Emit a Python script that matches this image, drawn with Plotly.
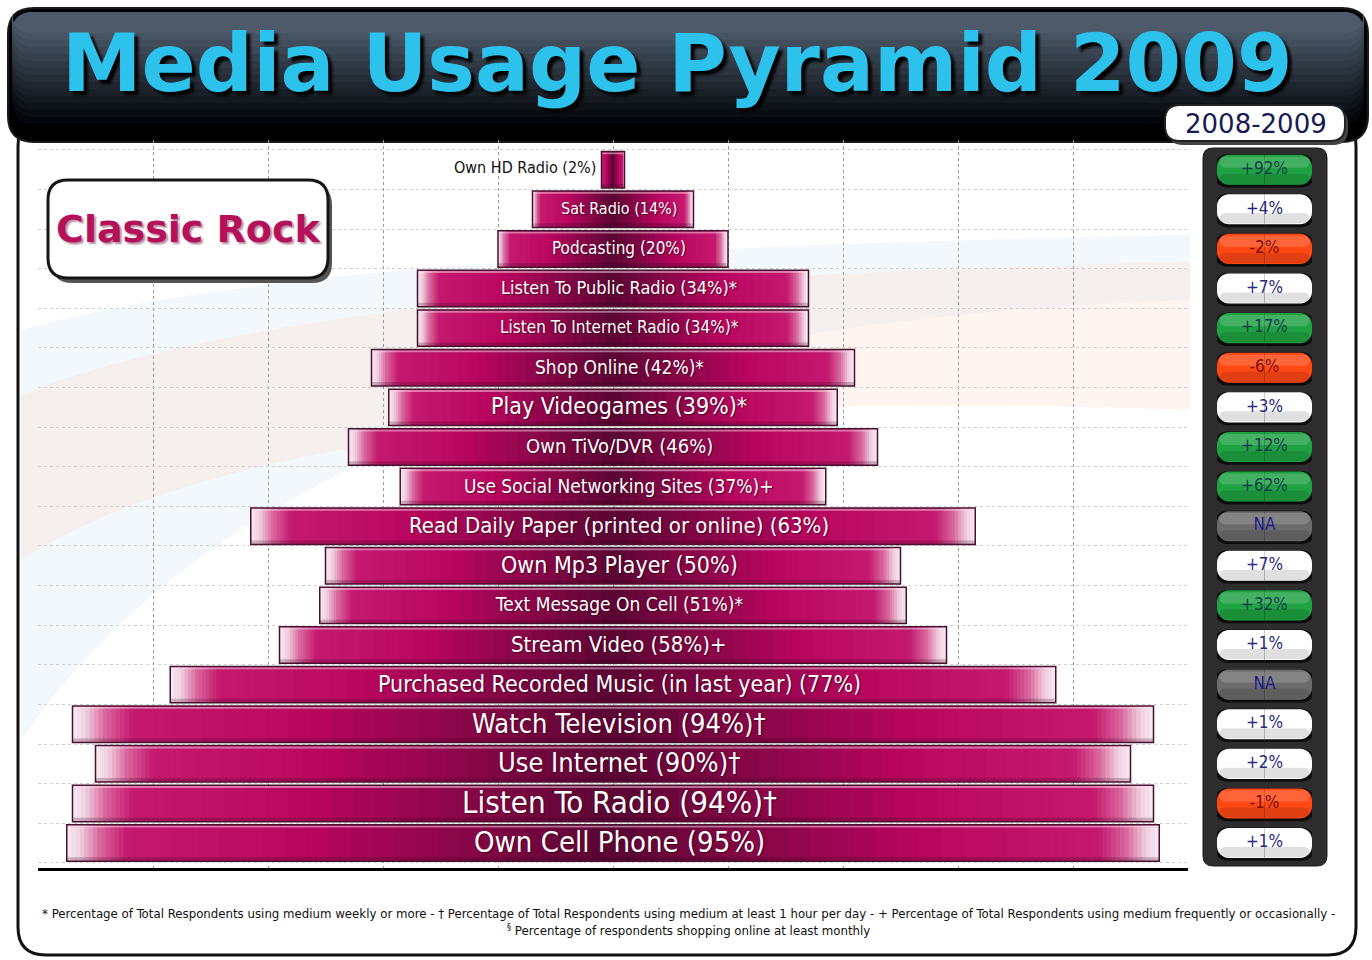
import plotly.graph_objects as go

# ---------------- data ----------------
categories = [
    "Own Cell Phone (95%)",
    "Listen To Radio (94%)†",
    "Use Internet (90%)†",
    "Watch Television (94%)†",
    "Purchased Recorded Music (in last year) (77%)",
    "Stream Video (58%)+",
    "Text Message On Cell (51%)*",
    "Own Mp3 Player (50%)",
    "Read Daily Paper (printed or online) (63%)",
    "Use Social Networking Sites (37%)+",
    "Own TiVo/DVR (46%)",
    "Play Videogames (39%)*",
    "Shop Online (42%)*",
    "Listen To Internet Radio (34%)*",
    "Listen To Public Radio (34%)*",
    "Podcasting (20%)",
    "Sat Radio (14%)",
    "Own HD Radio (2%)",
]
usage = [95, 94, 90, 94, 77, 58, 51, 50, 63, 37, 46, 39, 42, 34, 34, 20, 14, 2]
change_2008_2009 = [1, -1, 2, 1, None, 1, 32, 7, None, 62, 12, 3, -6, 17, 7, -2, 4, 92]

title_text = "Media Usage Pyramid 2009"
period_text = "2008-2009"
station_text = "Classic Rock"
footnote_text = ("* Percentage of Total Respondents using medium weekly or more - "
                 "† Percentage of Total Respondents using medium at least 1 hour per day - "
                 "+ Percentage of Total Respondents using medium frequently or occasionally -"
                 "<br><sup>§</sup> Percentage of respondents shopping online at least monthly")

# ---------------- styles ----------------
W, H = 1372, 960
NARROW = "DejaVu Sans Condensed, Liberation Sans Narrow, sans-serif"
label_sizes = [29, 31, 27, 27, 23, 22, 19, 23, 22, 19, 20, 23, 19, 17, 18, 17, 16, 16]

def hx(c):
    c = c.lstrip('#')
    return tuple(int(c[i:i + 2], 16) for i in (0, 2, 4))

def grad(stops, t):
    for (t0, c0), (t1, c1) in zip(stops[:-1], stops[1:]):
        if t0 <= t <= t1:
            f = 0 if t1 == t0 else (t - t0) / (t1 - t0)
            a, b = hx(c0), hx(c1)
            return 'rgb(%d,%d,%d)' % tuple(round(a[k] + (b[k] - a[k]) * f) for k in range(3))
    return stops[-1][1]

bar_stops = [(0.0, '#f8eaf1'), (0.012, '#f0d0e0'), (0.03, '#d8689c'), (0.055, '#c41a6e'),
             (0.22, '#b8065e'), (0.5, '#5a0632'), (0.78, '#b8065e'), (0.945, '#c41a6e'),
             (0.97, '#d8689c'), (0.988, '#f0d0e0'), (1.0, '#f8eaf1')]

# segment boundaries (finer near the bar ends for the light fade)
seg_t = ([k * 0.004 for k in range(25)] + [0.1 + k * 0.02 for k in range(1, 40)] +
         [0.9 + k * 0.004 for k in range(26)])

def P(px, py):
    return px / W, 1 - py / H

def pt(px, py):
    x, y = P(px, py)
    return f"{x:.6f},{y:.6f}"

def rrect(x0, y0, x1, y1, r):
    return (f"M{pt(x0 + r, y0)} L{pt(x1 - r, y0)} Q{pt(x1, y0)} {pt(x1, y0 + r)} "
            f"L{pt(x1, y1 - r)} Q{pt(x1, y1)} {pt(x1 - r, y1)} L{pt(x0 + r, y1)} "
            f"Q{pt(x0, y1)} {pt(x0, y1 - r)} L{pt(x0, y0 + r)} Q{pt(x0, y0)} {pt(x0 + r, y0)} Z")

fig = go.Figure()

# ---------------- pyramid bars (gradient built from segments) ----------------
for a, b in zip(seg_t[:-1], seg_t[1:]):
    t = (a + b) / 2
    ext = 1.0 if b >= 1.0 else 1.5
    xs = [v * (b - a) * ext for v in usage]
    bs = [-v / 2 + v * a for v in usage]
    fig.add_trace(go.Bar(orientation='h', y=categories, x=xs, base=bs, width=0.92,
                         marker=dict(color=grad(bar_stops, t), line=dict(width=0)),
                         hoverinfo='skip', showlegend=False))
# top highlight and bottom shade
fig.add_trace(go.Bar(orientation='h', y=categories, x=usage, base=[-v / 2 for v in usage],
                     width=0.05, offset=0.39, marker=dict(color='rgba(255,215,235,0.5)', line=dict(width=0)),
                     hoverinfo='skip', showlegend=False))
fig.add_trace(go.Bar(orientation='h', y=categories, x=usage, base=[-v / 2 for v in usage],
                     width=0.10, offset=-0.46, marker=dict(color='rgba(50,0,25,0.22)', line=dict(width=0)),
                     hoverinfo='skip', showlegend=False))
# outline
fig.add_trace(go.Bar(orientation='h', y=categories, x=usage, base=[-v / 2 for v in usage],
                     width=0.92, marker=dict(color='rgba(0,0,0,0)', line=dict(color='#4a1030', width=1.5)),
                     hoverinfo='skip', showlegend=False))

# ---------------- badges ----------------
def badge_color(c):
    if c is None:
        return '#6c6c6c'
    if c < 0:
        return '#ff4814'
    if c >= 10:
        return '#1fa243'
    return '#ffffff'

def badge_text_color(c):
    if c is None:
        return '#1c1c8a'
    if c < 0:
        return '#7a1010'
    if c >= 10:
        return '#143f4a'
    return '#2a2a7e'

b_cols = [badge_color(c) for c in change_2008_2009]
b_txt = ['NA' if c is None else f"{c:+d}%" for c in change_2008_2009]
b_tcol = [badge_text_color(c) for c in change_2008_2009]
n = len(categories)
for sgn in (1, -1):
    fig.add_trace(go.Bar(orientation='h', y=categories, x=[1.06 * sgn] * n, width=0.84, offset=-0.45,
                         marker=dict(color='#0c0c0c', cornerradius=13, line=dict(width=0)),
                         xaxis='x3', yaxis='y2', hoverinfo='skip', showlegend=False))
for sgn in (1, -1):
    fig.add_trace(go.Bar(orientation='h', y=categories, x=[1.0 * sgn] * n, width=0.76,
                         marker=dict(color=b_cols, cornerradius=12, line=dict(width=0)),
                         xaxis='x3', yaxis='y2', hoverinfo='skip', showlegend=False))
for sgn in (1, -1):
    fig.add_trace(go.Bar(orientation='h', y=categories, x=[0.95 * sgn] * n, width=0.26, offset=-0.36,
                         marker=dict(color='rgba(0,0,0,0.12)', cornerradius=8, line=dict(width=0)),
                         xaxis='x3', yaxis='y2', hoverinfo='skip', showlegend=False))
    fig.add_trace(go.Bar(orientation='h', y=categories, x=[0.95 * sgn] * n, width=0.28, offset=0.05,
                         marker=dict(color='rgba(255,255,255,0.16)', cornerradius=8, line=dict(width=0)),
                         xaxis='x3', yaxis='y2', hoverinfo='skip', showlegend=False))
fig.add_trace(go.Scatter(x=[0] * n, y=categories, mode='text', text=b_txt,
                         textfont=dict(family=NARROW, size=17, color=b_tcol),
                         xaxis='x3', yaxis='y2', hoverinfo='skip', showlegend=False))

# ---------------- bar labels ----------------
annotations = []
for cat, v, fs in zip(categories, usage, label_sizes):
    if v < 5:
        annotations.append(dict(x=-v / 2, y=cat, xref='x', yref='y', text=cat, showarrow=False,
                                xanchor='right', xshift=-4, yshift=2,
                                font=dict(family=NARROW, size=fs, color='#111111')))
    else:
        annotations.append(dict(x=0, y=cat, xref='x', yref='y', text=cat, showarrow=False,
                                xanchor='center', xshift=6, yshift=1,
                                font=dict(family=NARROW, size=fs, color='#ffffff',
                                          shadow='1px 1px 1px rgba(60,0,30,0.8)')))

tx, ty = P(677, 64)
annotations.append(dict(x=tx, y=ty, xref='paper', yref='paper', text='<b>' + title_text + '</b>',
                        showarrow=False, xanchor='center', yanchor='middle',
                        font=dict(family='DejaVu Sans', size=80, color='#2cc2ec',
                                  shadow='4px 4px 3px #000000')))
px_, py_ = P(1256, 124)
annotations.append(dict(x=px_, y=py_, xref='paper', yref='paper', text=period_text, showarrow=False,
                        xanchor='center', yanchor='middle',
                        font=dict(family='DejaVu Sans', size=26, color='#1a1a52')))
cx, cy = P(188, 229)
annotations.append(dict(x=cx, y=cy, xref='paper', yref='paper', text='<b>' + station_text + '</b>',
                        showarrow=False, xanchor='center', yanchor='middle',
                        font=dict(family='DejaVu Sans', size=38, color='#b5105a',
                                  shadow='2px 2px 2px rgba(90,0,40,0.45)')))
fx, fy = P(688, 922)
annotations.append(dict(x=fx, y=fy, xref='paper', yref='paper', text=footnote_text, showarrow=False,
                        xanchor='center', yanchor='middle', align='center',
                        font=dict(family=NARROW, size=13.1, color='#111111')))

# ---------------- decorative shapes ----------------
shapes = []
# white panel
shapes.append(dict(type='path', path=rrect(18, 118, 1356, 955, 28), xref='paper', yref='paper',
                   fillcolor='#ffffff', line=dict(color='#111111', width=3), layer='below'))
# faint swooshes
shapes.append(dict(type='path', xref='paper', yref='paper', layer='below',
                   path=f"M{pt(21, 330)} Q{pt(300, 250)} {pt(1190, 235)} L{pt(1190, 300)} "
                        f"Q{pt(300, 330)} {pt(21, 740)} Z",
                   fillcolor='rgba(205,228,245,0.25)', line=dict(width=0)))
shapes.append(dict(type='path', xref='paper', yref='paper', layer='below',
                   path=f"M{pt(21, 395)} Q{pt(300, 280)} {pt(1190, 262)} L{pt(1190, 410)} "
                        f"Q{pt(300, 380)} {pt(21, 560)} Z",
                   fillcolor='rgba(255,220,200,0.28)', line=dict(width=0)))
# banner
shapes.append(dict(type='path', path=rrect(8, 8, 1368, 142, 26), xref='paper', yref='paper',
                   fillcolor='#000000', line=dict(color='#1a1a1a', width=2), layer='below'))
steps = 14
for k in range(steps):
    t = k / (steps - 1)
    y1 = 124 - k * 7
    shapes.append(dict(type='path', path=rrect(12, 12, 1364, y1, 22), xref='paper', yref='paper',
                       fillcolor=grad([(0, '#03060a'), (1, '#4c5a6a')], t), line=dict(width=0),
                       layer='below'))
# badge column
shapes.append(dict(type='path', path=rrect(1203, 148, 1327, 866, 10), xref='paper', yref='paper',
                   fillcolor='#2d2d2d', line=dict(color='#1a1a1a', width=1), layer='below'))
# period tab
shapes.append(dict(type='path', path=rrect(1168, 109, 1348, 145, 15), xref='paper', yref='paper',
                   fillcolor='#444444', line=dict(width=0), layer='above'))
shapes.append(dict(type='path', path=rrect(1165, 105, 1345, 141, 15), xref='paper', yref='paper',
                   fillcolor='#ffffff', line=dict(color='#222222', width=2), layer='above'))
# station box
shapes.append(dict(type='path', path=rrect(52, 185, 332, 283, 20), xref='paper', yref='paper',
                   fillcolor='#555555', line=dict(width=0), layer='above'))
shapes.append(dict(type='path', path=rrect(48, 180, 328, 278, 20), xref='paper', yref='paper',
                   fillcolor='#ffffff', line=dict(color='#151515', width=3), layer='above'))

x0d, x1d = 38 / W, 1188 / W
y0d, y1d = 1 - 868 / H, 1 - 140 / H
yrange = [-0.63, 17.75]

fig.update_layout(
    width=W, height=H, margin=dict(l=0, r=0, t=0, b=0), autosize=False,
    paper_bgcolor='#ffffff', plot_bgcolor='rgba(0,0,0,0)',
    barmode='overlay', showlegend=False,
    shapes=shapes, annotations=annotations,
    xaxis=dict(domain=[x0d, x1d], range=[-50, 50], tick0=0, dtick=10, showgrid=True,
               gridcolor='#9a9a9a', griddash='dot', gridwidth=1, zeroline=False,
               showticklabels=False, ticks='', showline=True, linecolor='#000000', linewidth=3,
               anchor='y', fixedrange=True),
    yaxis=dict(domain=[y0d, y1d], type='category', categoryorder='array', categoryarray=categories,
               range=yrange, showgrid=True, tickson='boundaries', gridcolor='#cfcfcf', griddash='dot',
               showticklabels=False, ticks='', zeroline=False, anchor='x', fixedrange=True),
    xaxis3=dict(domain=[1217 / W, 1312 / W], range=[-1, 1], visible=False, anchor='y2', fixedrange=True),
    yaxis2=dict(domain=[y0d, y1d], type='category', categoryorder='array', categoryarray=categories,
                range=yrange, visible=False, anchor='x3', fixedrange=True),
)

fig.write_html("out.html")
